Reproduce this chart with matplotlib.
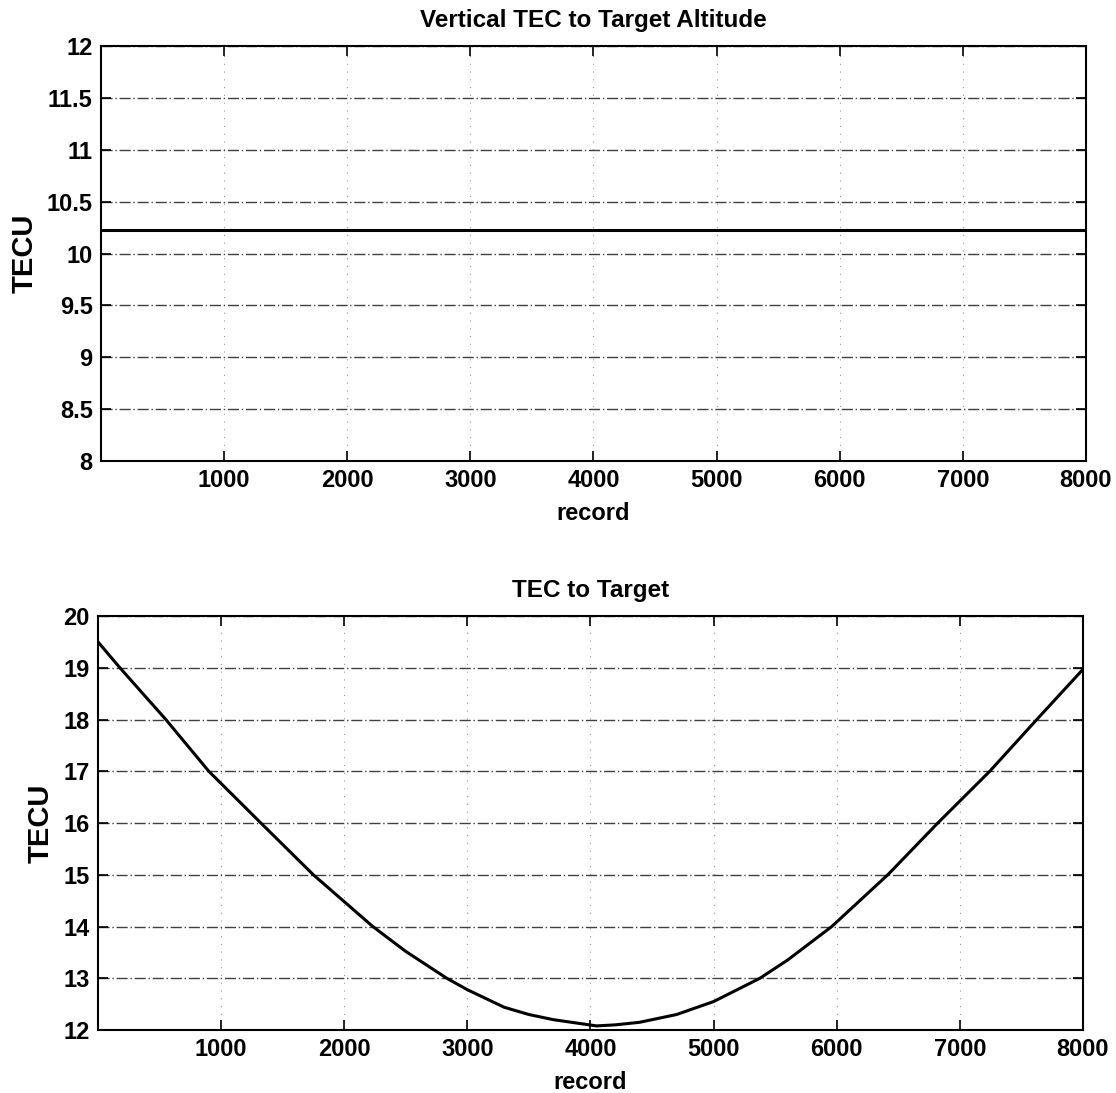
import numpy as np
import matplotlib
matplotlib.use('Agg')
import matplotlib.pyplot as plt
from matplotlib.ticker import FormatStrFormatter

plt.rcParams['font.family'] = ['Liberation Sans', 'DejaVu Sans']

# top panel: vertical TEC stays flat
vtec_records = [1, 8000]
vtec_values = [10.23, 10.23]

# bottom panel: slant TEC
tec_records = [1, 179, 552, 901, 1324, 1750, 2233, 2500, 2834, 3000, 3300, 3500, 3700,
               4050, 4200, 4400, 4700, 5000, 5376, 5600, 5960, 6415, 6821, 7243, 7625, 8000]
tec_values = [19.5, 19.0, 18.0, 17.0, 16.0, 15.0, 14.0, 13.52, 13.0, 12.78, 12.44, 12.3, 12.2,
              12.08, 12.1, 12.15, 12.3, 12.55, 13.0, 13.35, 14.0, 15.0, 16.0, 17.0, 18.0, 18.97]

xticks = [1000, 2000, 3000, 4000, 5000, 6000, 7000, 8000]
top_yticks = np.arange(8, 12.01, 0.5)
bot_yticks = np.arange(12, 20.01, 1)

fig = plt.figure(figsize=(11.16, 10.93), dpi=100)
ax1 = fig.add_axes([0.0905, 0.5782, 0.8826, 0.3797])
ax2 = fig.add_axes([0.0878, 0.0576, 0.8826, 0.3788])


def style_axes(ax, yticks, title):
    ax.set_xlim(1, 8000)
    ax.set_ylim(yticks[0], yticks[-1])
    ax.set_xticks(xticks)
    ax.set_yticks(yticks)
    ax.yaxis.set_major_formatter(FormatStrFormatter('%g'))
    ax.tick_params(direction='in', length=7, width=1.2, top=True, right=True,
                   labelsize=17, pad=6)
    for lab in ax.get_xticklabels() + ax.get_yticklabels():
        lab.set_fontweight('bold')
    for sp in ax.spines.values():
        sp.set_linewidth(1.5)
    ax.yaxis.grid(True, linestyle=(0, (8, 2, 1, 2)), color='0.25', linewidth=1.0)
    ax.xaxis.grid(True, linestyle=(0, (1, 6)), color='0.6', linewidth=0.8)
    ax.set_axisbelow(True)
    ax.set_xlabel('record', fontsize=17, fontweight='bold', labelpad=7)
    ax.set_ylabel('TECU', fontsize=21, fontweight='bold', labelpad=6)
    ax.set_title(title, fontsize=17.5, fontweight='bold', pad=14)


ax1.plot(vtec_records, vtec_values, color='black', linewidth=2.2)
style_axes(ax1, top_yticks, 'Vertical TEC to Target Altitude')

ax2.plot(tec_records, tec_values, color='black', linewidth=2.2)
style_axes(ax2, bot_yticks, 'TEC to Target')

fig.savefig('out.png', dpi=100)
